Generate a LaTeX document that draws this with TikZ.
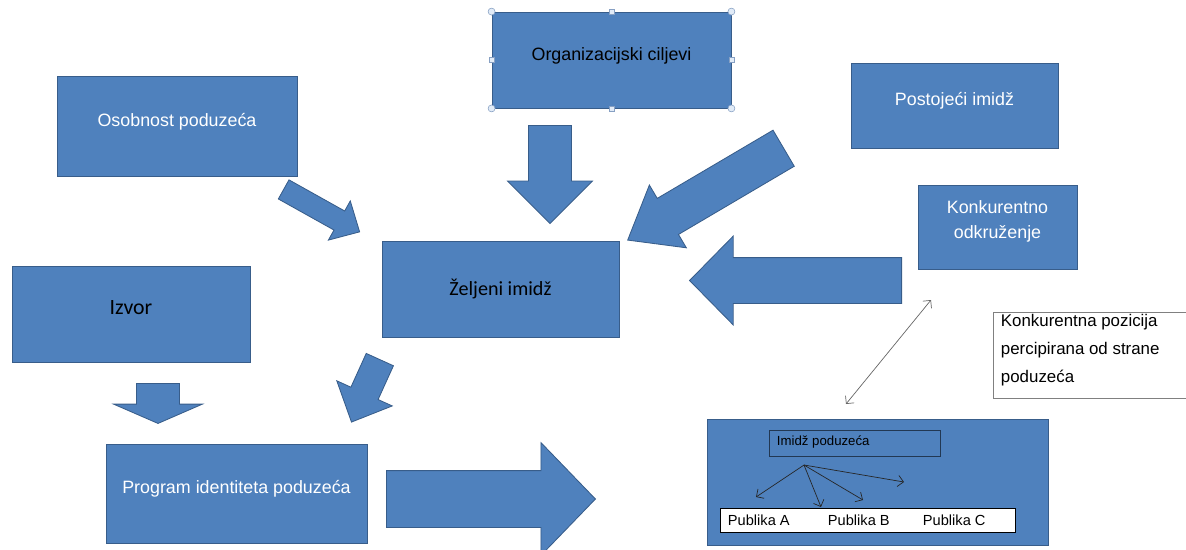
\documentclass[tikz,border=0pt]{standalone}
\usepackage{fontspec}
\setmainfont{Liberation Sans}
\newfontfamily\calibri{Carlito}
\usetikzlibrary{shapes.arrows,arrows.meta}
\definecolor{office}{RGB}{79,129,189}
\definecolor{officeedge}{RGB}{56,93,138}
\definecolor{handleedge}{RGB}{135,160,195}
\definecolor{handlefill}{RGB}{225,235,247}
\def\px{0.025cm}
\tikzset{
  plainbox/.style={draw=officeedge, fill=office, line width=0.6pt, inner sep=0pt,
    font=\fontsize{12.7}{17.7}\selectfont},
  box/.style={plainbox, text height=1.4ex, text depth=1.4ex},
  blockarrow/.style={single arrow, draw=officeedge, fill=office, line width=0.6pt,
    inner sep=0pt, single arrow head indent=0pt, anchor=tail},
  shaft/.style={text height=#1, text depth=0pt},
  handle/.style={draw=handleedge, fill=handlefill, line width=0.4pt, inner sep=0pt,
    minimum size=5*\px},
  fanarrow/.style={black!85, line width=0.5pt, -{Straight Barb[length=1.4mm,width=2.8mm]}}
}
\begin{document}
\begin{tikzpicture}[x=0.025cm, y=-0.025cm]
        \useasboundingbox (0,0) rectangle (1186,549);

        \node[box, text=white, minimum width=240*\px, minimum height=100*\px] (osobnost) at (177,126) {Osobnost poduzeća};
        \node[box, minimum width=239*\px, minimum height=96*\px] (ciljevi) at (611.5,60) {Organizacijski ciljevi};
        \node[box, text=white, minimum width=207*\px, minimum height=85*\px] (postojeci) at (954.5,105.5) {Postojeći imidž};
        \node[plainbox, minimum width=159*\px, minimum height=84*\px,
          label={[text=white, align=center, font=\fontsize{12.7}{17.7}\selectfont, yshift=0.15cm]center:Konkurentno\\odkruženje}] (konkurentno) at (997.5,227) {};
        \node[plainbox, font=\calibri\fontsize{14.3}{17}\selectfont, minimum width=237*\px, minimum height=96*\px] (zeljeni) at (500.5,289) {Željeni imidž};
        \node[box, font=\calibri\fontsize{15.5}{19}\selectfont, minimum width=238*\px, minimum height=96*\px] (izvor) at (131,314) {Izvor};
        \node[box, text=white, minimum width=261*\px, minimum height=99*\px] (program) at (236.5,493.5) {Program identiteta poduzeća};

        \foreach \a in {north west, north east, south west, south east}
          \node[handle, circle, minimum size=7*\px] at (ciljevi.\a) {};
        \foreach \a in {north, south, east, west}
          \node[handle] at (ciljevi.\a) {};

        \node[blockarrow, shaft=0.525cm, minimum height=87*\px, minimum width=44*\px, single arrow head extend=11.5*\px, single arrow tip angle=88, rotate=-29.2] (s1) at (283.3,189.2) {};
        \node[blockarrow, shaft=1.05cm, minimum height=98*\px, minimum width=84*\px, single arrow head extend=21*\px, single arrow tip angle=90, rotate=-90] (s2) at (550,125) {};
        \node[blockarrow, shaft=1.025cm, minimum height=181*\px, minimum width=72*\px, single arrow head extend=15.5*\px, single arrow tip angle=76, rotate=210.5] (s3) at (784,148) {};
        \node[blockarrow, shaft=1.125cm, minimum height=212*\px, minimum width=88*\px, single arrow head extend=21.5*\px, single arrow tip angle=91, rotate=180] (s4) at (902,280.5) {};
        \node[blockarrow, shaft=0.725cm, minimum height=68.6*\px, minimum width=60*\px, single arrow head extend=15.5*\px, single arrow tip angle=88, rotate=245.6] (s5) at (380,359.2) {};
        \node[blockarrow, shaft=1.05cm, minimum height=40*\px, minimum width=88*\px, single arrow head extend=23*\px, single arrow tip angle=133, rotate=-90] (s6) at (158,383) {};
        \node[blockarrow, shaft=1.4cm, minimum height=209*\px, minimum width=112*\px, single arrow head extend=28*\px, single arrow tip angle=92] (s7) at (386,499) {};

        \node[draw=gray, fill=white, line width=0.5pt, inner sep=0pt, minimum width=196*\px, minimum height=86*\px] (pozicija) at (1091,355) {};
        \node[anchor=west, align=left, font=\fontsize{12}{19.8}\selectfont] (pozicijatxt) at (996,350) {Konkurentna pozicija\\percipirana od strane\\poduzeća};

        \node[plainbox, minimum width=341*\px, minimum height=126*\px] (slika) at (877.5,482) {};
        \node[draw=officeedge!60!black, line width=0.6pt, minimum width=171*\px, minimum height=26*\px, inner sep=0pt] (imidz) at (854.5,443) {};
        \node[anchor=west, font=\fontsize{9.4}{11}\selectfont] at (772,442) {Imidž poduzeća};
        \node[draw=black, fill=white, line width=0.5pt, minimum width=295*\px, minimum height=24*\px, inner sep=0pt] (publika) at (867.5,520) {};
        \node[anchor=west, font=\fontsize{10.4}{12}\selectfont] (pa) at (723,520) {Publika A};
        \node[anchor=west, font=\fontsize{10.4}{12}\selectfont] (pb) at (823,520) {Publika B};
        \node[anchor=west, font=\fontsize{10.4}{12}\selectfont] (pc) at (918,520) {Publika C};

        \coordinate (fan) at (804,465);
        \coordinate (fa) at (756,497);
        \coordinate (fb) at (821,507);
        \coordinate (fc) at (863,500);
        \coordinate (fd) at (904,482);
        \foreach \t in {fa,fb,fc,fd}
          \draw[fanarrow] (fan) -- (\t);

        \coordinate (kgore) at (931,300);
        \coordinate (kdolje) at (846,404);
        \draw[gray!80!black, line width=0.5pt, {Straight Barb[length=1.4mm,width=2.8mm]}-{Straight Barb[length=1.4mm,width=2.8mm]}] (kdolje) -- (kgore);
\end{tikzpicture}
\end{document}
